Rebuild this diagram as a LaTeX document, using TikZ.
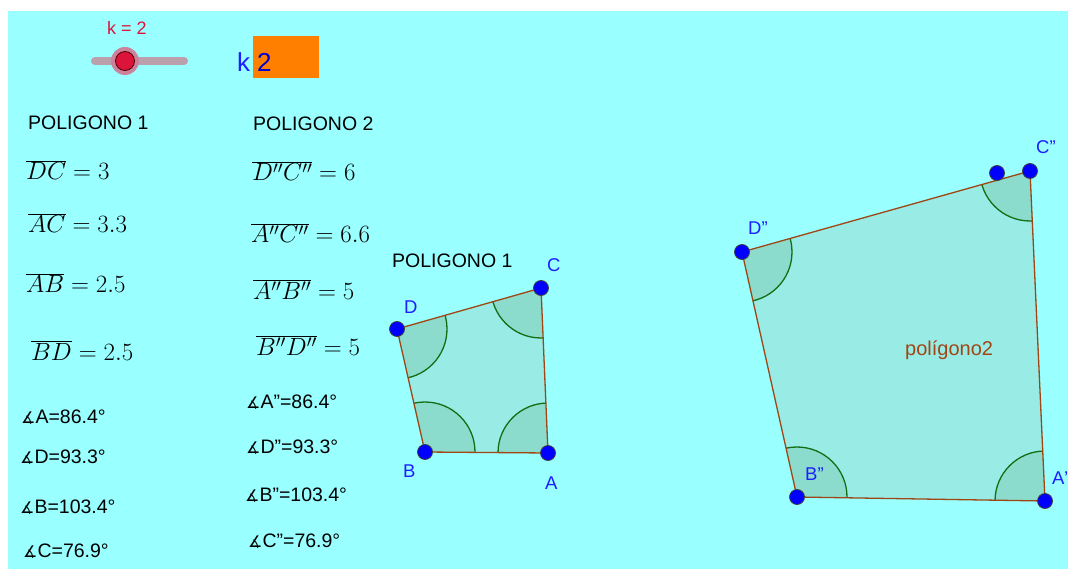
\documentclass[tikz,border=0pt]{standalone}
\usepackage{fontspec}
\setmainfont{Liberation Sans}
\newfontfamily\dv{DejaVu Sans}
\definecolor{bgcyan}{RGB}{153,255,255}
\definecolor{polyfill}{RGB}{153,235,229}
\definecolor{angfill}{RGB}{139,220,204}
\definecolor{edgebrown}{RGB}{160,70,20}
\definecolor{arcgreen}{RGB}{20,110,20}
\definecolor{ptblue}{RGB}{0,0,255}
\definecolor{lblblue}{RGB}{30,30,255}
\definecolor{crim}{RGB}{220,20,60}
\definecolor{slgray}{RGB}{185,160,172}
\definecolor{halo}{RGB}{205,130,155}
\definecolor{orng}{RGB}{255,128,0}
\definecolor{polylbl}{RGB}{160,70,20}
\newcommand{\ang}{{\dv\fontsize{16}{16}\selectfont ∡}}
\newcommand{\dq}{\symbol{34}}
\begin{document}
\begin{tikzpicture}[x=1pt,y=-1pt,
  ptnode/.style={circle, fill=ptblue, draw=black!75, line width=0.8pt, inner sep=0pt, minimum size=15pt},
  lbl/.style={text=lblblue, anchor=base west, inner sep=0pt, font=\fontsize{18.5}{18.5}\selectfont},
  txt/.style={anchor=base west, inner sep=0pt, font=\fontsize{19.5}{19.5}\selectfont},
  mth/.style={anchor=base west, inner sep=0pt, font=\fontsize{26.5}{26.5}\selectfont},
  edge/.style={draw=edgebrown, line width=1.3pt, line join=round},
  arcline/.style={draw=arcgreen, line width=1.3pt}]
\useasboundingbox (0,0) rectangle (1068,569);
\fill[bgcyan] (8,11) rectangle (1068,569);

% slider
\coordinate (s1) at (95,61);
\coordinate (s2) at (184,61);
\draw[slgray, line width=8pt, line cap=round] (s1) -- (s2);
\node[circle, fill=halo, inner sep=0pt, minimum size=28pt] (knobhalo) at (125,61) {};
\node[circle, fill=crim, draw=black!70!red, line width=0.8pt, inner sep=0pt, minimum size=19pt] (knob) at (125,61) {};
\node[anchor=base west, inner sep=0pt, text=crim, font=\fontsize{18}{18}\selectfont] (klbl) at (107,35) {k = 2};

% input box
\node[anchor=base west, inner sep=0pt, text=lblblue, font=\fontsize{26}{26}\selectfont] (kin) at (237,72) {k};
\fill[orng] (253,36) rectangle (319,78);
\node[anchor=base west, inner sep=0pt, text=blue!80!black, font=\fontsize{26}{26}\selectfont] (kval) at (257,72) {2};

% left texts
\node[txt] (t1) at (28,130) {POLIGONO 1};
\node[txt] (t2) at (253,131) {POLIGONO 2};
\node[mth] (m1) at (26,180) {$\overline{DC}=3$};
\node[mth] (m2) at (28,233) {$\overline{AC}=3.3$};
\node[mth] (m3) at (26,293) {$\overline{AB}=2.5$};
\node[mth] (m4) at (31,360) {$\overline{BD}=2.5$};
\node[mth] (m5) at (252,181) {$\overline{D''C''}=6$};
\node[mth] (m6) at (251,243) {$\overline{A''C''}=6.6$};
\node[mth] (m7) at (253,299) {$\overline{A''B''}=5$};
\node[mth] (m8) at (256,355) {$\overline{B''D''}=5$};

\node[txt] (a1) at (21,423) {\ang A=86.4°};
\node[txt] (a2) at (20,463) {\ang D=93.3°};
\node[txt] (a3) at (20,513) {\ang B=103.4°};
\node[txt] (a4) at (23,557) {\ang C=76.9°};
\node[txt] (a5) at (246,408) {\ang A\dq=86.4°};
\node[txt] (a6) at (246,453) {\ang D\dq=93.3°};
\node[txt] (a7) at (245,501) {\ang B\dq=103.4°};
\node[txt] (a8) at (248,547) {\ang C\dq=76.9°};

% polygon 1
\coordinate (D) at (397,329);
\coordinate (C) at (541,288);
\coordinate (A) at (548,453);
\coordinate (B) at (425,452);
\fill[polyfill] (D) -- (C) -- (A) -- (B) -- cycle;
\begin{scope}
\clip (D) -- (C) -- (A) -- (B) -- cycle;
\foreach \v in {D,C,A,B} {\fill[angfill] (\v) circle (50pt);}
\foreach \v in {D,C,A,B} {\draw[arcline] (\v) circle (50pt);}
\end{scope}
\draw[edge] (D) -- (C) -- (A) -- (B) -- cycle;

% polygon 2
\coordinate (D2) at (742,252);
\coordinate (C2) at (1030,171);
\coordinate (A2) at (1045,501);
\coordinate (B2) at (797,497);
\coordinate (E2) at (997,173);
\fill[polyfill] (D2) -- (C2) -- (A2) -- (B2) -- cycle;
\begin{scope}
\clip (D2) -- (C2) -- (A2) -- (B2) -- cycle;
\foreach \v in {D2,C2,A2,B2} {\fill[angfill] (\v) circle (50pt);}
\foreach \v in {D2,C2,A2,B2} {\draw[arcline] (\v) circle (50pt);}
\end{scope}
\draw[edge] (D2) -- (C2) -- (A2) -- (B2) -- cycle;

% points
\foreach \v in {D,C,A,B,D2,C2,A2,B2,E2} {\node[ptnode] (p\v) at (\v) {};}

% labels
\node[txt] (poly1lbl) at (392,268) {POLIGONO 1};
\node[lbl] (lD) at (404,313) {D};
\node[lbl] (lC) at (547,272) {C};
\node[lbl] (lB) at (403,477) {B};
\node[lbl] (lA) at (545,489) {A};
\node[lbl] (lD2) at (748,235) {D\dq};
\node[lbl] (lC2) at (1036,154) {C\dq};
\node[lbl] (lB2) at (805,480) {B\dq};
\node[lbl] (lA2) at (1052,484) {A\dq};
\node[anchor=base west, inner sep=0pt, text=polylbl, font=\fontsize{20}{20}\selectfont] (pl2) at (905,355) {polígono2};
\end{tikzpicture}
\end{document}
